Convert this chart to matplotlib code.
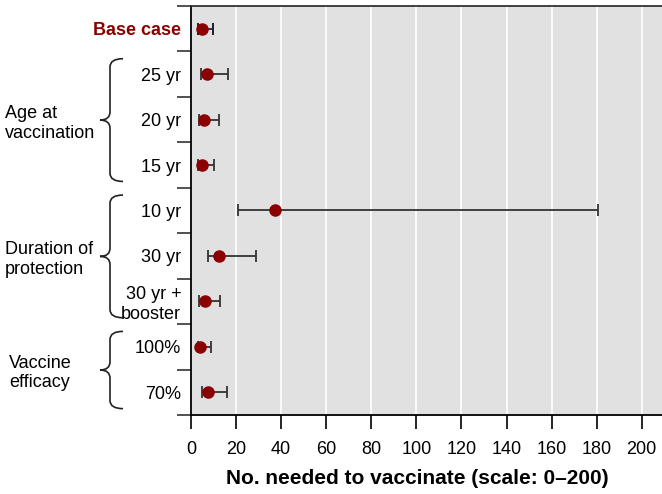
import numpy as np
import matplotlib
matplotlib.use("Agg")
import matplotlib.pyplot as plt
from matplotlib.path import Path
from matplotlib.patches import PathPatch
from matplotlib import transforms

plt.rcParams['font.family'] = ['Liberation Sans', 'DejaVu Sans']

labels = ['Base case', '25 yr', '20 yr', '15 yr', '10 yr', '30 yr',
          '30 yr +\nbooster', '100%', '70%']
nnv = [5.0, 7.1, 5.8, 5.0, 37.3, 12.6, 6.2, 4.1, 7.7]
lower = [3.0, 4.3, 3.6, 3.1, 20.7, 7.7, 3.7, 3.0, 4.9]
upper = [9.6, 16.6, 12.6, 10.1, 180.8, 29.0, 12.9, 8.7, 15.8]

groups = ['Age at\nvaccination', 'Duration of\nprotection', 'Vaccine\nefficacy']
group_rows = [(1, 3), (4, 6), (7, 8)]
group_x = [5, 5, 9]

red = '#8B0000'

fig = plt.figure(figsize=(6.62, 4.94), dpi=100)
ax = fig.add_axes([191 / 662, 79 / 494, 471 / 662, 409 / 494])
ax.set_facecolor('#E1E1E1')

y = np.arange(len(labels))
nnv = np.array(nnv)
err = [nnv - np.array(lower), np.array(upper) - nnv]

for i in y:
    c = '#1a237e' if i == 0 else '#333333'
    ax.errorbar(nnv[i], i, xerr=[[err[0][i]], [err[1][i]]], fmt='none',
                ecolor=c, elinewidth=1.3, capsize=4, capthick=1.3, zorder=3)
    if i == 0:
        # caps in black for the base case
        ax.errorbar(nnv[i], i, xerr=[[err[0][i]], [err[1][i]]], fmt='none',
                    ecolor='#222222', elinewidth=0, capsize=4, capthick=1.3, zorder=3)
ax.plot(nnv, y, 'o', color=red, ms=8, zorder=4)

ax.set_xlim(0, 209)
ax.set_ylim(len(labels) - 0.5, -0.5)
ax.set_xticks(np.arange(0, 201, 20))
ax.xaxis.grid(True, color='white', lw=1.2)
ax.set_axisbelow(True)

ax.set_yticks(y)
ax.set_yticklabels(labels, fontsize=13, ha='right', multialignment='right')
ax.get_yticklabels()[0].set_color(red)
ax.get_yticklabels()[0].set_fontweight('bold')
ax.set_yticks(np.arange(-0.5, len(labels)), minor=True)
ax.tick_params(axis='y', which='major', length=0, pad=7)
ax.tick_params(axis='y', which='minor', length=10, width=1.2, color='#333333')
ax.tick_params(axis='x', length=10, width=1.2, labelsize=13, pad=9)

ax.spines['right'].set_visible(False)
ax.spines['top'].set_color('#333333')
for s in ['top', 'left', 'bottom']:
    ax.spines[s].set_linewidth(1.3)

ax.set_xlabel('No. needed to vaccinate (scale: 0–200)', fontsize=15,
              fontweight='bold')
ax.xaxis.set_label_coords(0.48, -0.132)

# curly braces: x in pixels, y in data rows
tr = transforms.blended_transform_factory(transforms.IdentityTransform(), ax.transData)


def brace(y0, y1, xtip=100, xarm=110, xend=123):
    ym = (y0 + y1) / 2
    r = 0.18
    verts = [(xend, y0), (xarm, y0), (xarm, y0 + r), (xarm, y0 + r * 1.3),
             (xarm, ym - r), (xarm, ym), (xtip, ym),
             (xarm, ym), (xarm, ym + r),
             (xarm, y1 - r * 1.3), (xarm, y1 - r), (xarm, y1), (xend, y1)]
    codes = [Path.MOVETO, Path.CURVE3, Path.CURVE3, Path.LINETO,
             Path.LINETO, Path.CURVE3, Path.CURVE3,
             Path.CURVE3, Path.CURVE3,
             Path.LINETO, Path.LINETO, Path.CURVE3, Path.CURVE3]
    p = PathPatch(Path(verts, codes), transform=tr, fill=False, lw=1.2,
                  ec='#222222', clip_on=False)
    fig.add_artist(p)


gtr = transforms.blended_transform_factory(fig.transFigure, ax.transData)
for (a, b), g, gx in zip(group_rows, groups, group_x):
    brace(a - 0.34, b + 0.36)
    fig.text(gx / 662, (a + b) / 2 + 0.08, g, fontsize=13, ha='left',
             va='center', transform=gtr)

fig.savefig('out.png', dpi=100)
